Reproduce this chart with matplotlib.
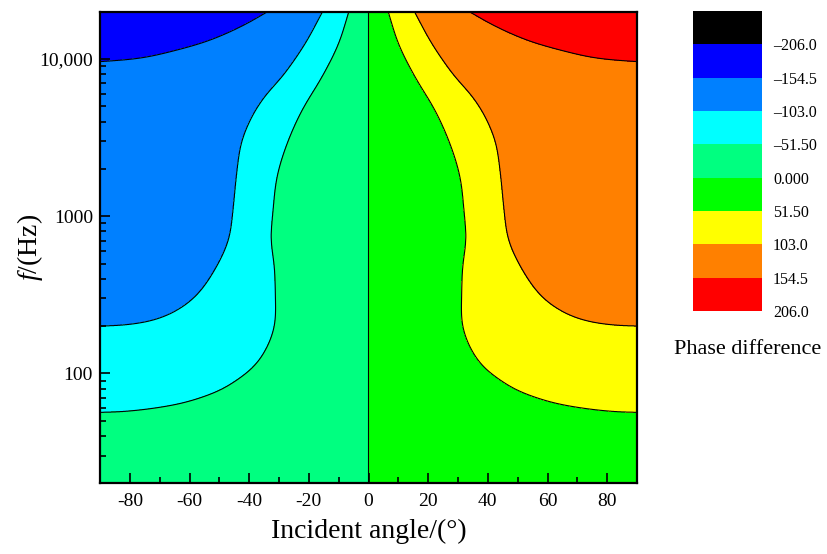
import numpy as np
import matplotlib
matplotlib.use("Agg")
import matplotlib.pyplot as plt
from matplotlib.ticker import MultipleLocator, FixedLocator, FixedFormatter, LogLocator, NullFormatter

plt.rcParams['font.family'] = ['Liberation Serif', 'DejaVu Serif']
plt.rcParams['mathtext.fontset'] = 'custom'
plt.rcParams['mathtext.it'] = 'Liberation Serif:italic'
plt.rcParams['mathtext.rm'] = 'Liberation Serif'
plt.rcParams['axes.unicode_minus'] = False

# ---------------- data ----------------
# contour levels of the phase difference and their fill colours
levels = [-257.5, -206.0, -154.5, -103.0, -51.5, 0.0, 51.5, 103.0, 154.5, 206.0]
fill_colors = ['#000000', '#0000FF', '#0080FF', '#00FFFF', '#00FF80',
               '#00FF00', '#FFFF00', '#FF8000', '#FF0000']
cbar_ticks = [-206.0, -154.5, -103.0, -51.5, 0.0, 51.5, 103.0, 154.5, 206.0]
cbar_labels = ['\u2013206.0', '\u2013154.5', '\u2013103.0', '\u201351.50', '0.000',
               '51.50', '103.0', '154.5', '206.0']

# contour lines (positive-angle half; field is antisymmetric)
freq_51 = [20000, 12530, 7690, 4720, 2900, 1780, 1092, 703, 488, 300, 218, 188,
           163, 134, 110, 90.7, 78.3, 65.9, 60.0, 57.0, 56.5]
ang_51 = [6.6, 10.0, 15.6, 22.3, 27.3, 30.7, 32.0, 32.7, 31.6, 31.2, 31.2, 31.8,
          32.9, 35.1, 38.5, 44.1, 49.7, 60.8, 72.0, 83.2, 90.0]

freq_103 = [20000, 12530, 7690, 6030, 4720, 3700, 2900, 1780, 1092, 703, 443,
            315, 259, 229, 213, 205, 201, 200]
ang_103 = [15.4, 21.2, 29.0, 34.0, 37.9, 40.7, 42.7, 44.3, 45.4, 46.9, 51.9,
           57.5, 63.1, 68.7, 74.3, 79.9, 85.4, 90.0]

freq_154 = [20000, 16400, 13200, 11400, 10200, 9780, 9620]
ang_154 = [33.8, 41.8, 53.0, 64.2, 75.4, 84.3, 90.0]

# phase difference along the +90 deg edge
edge_freq = [20, 56.5, 200, 9620, 20000]
edge_phase = [35.0, 51.5, 103.0, 154.5, 175.0]

x_ticks = [-80, -60, -40, -20, 0, 20, 40, 60, 80]
y_ticks = [100, 1000, 10000]
y_labels = ['100', '1000', '10,000']


# ---------------- smooth the read contour lines ----------------
def smooth_curve(angles, freqs, n=30, win=25):
    sx, sy = 2.983, 157.3  # roughly equal visual scaling of the two axes
    P = np.column_stack([np.asarray(angles, float) * sx, np.log10(np.asarray(freqs, float)) * sy])
    P = np.vstack([2 * P[0] - P[1], P, 2 * P[-1] - P[-2]])
    out = []
    for i in range(1, len(P) - 2):
        p0, p1, p2, p3 = P[i - 1], P[i], P[i + 1], P[i + 2]
        t0 = 0.0
        t1 = t0 + np.linalg.norm(p1 - p0) ** 0.5
        t2 = t1 + np.linalg.norm(p2 - p1) ** 0.5
        t3 = t2 + np.linalg.norm(p3 - p2) ** 0.5
        t = np.linspace(t1, t2, n, endpoint=False)[:, None]
        A1 = (t1 - t) / (t1 - t0) * p0 + (t - t0) / (t1 - t0) * p1
        A2 = (t2 - t) / (t2 - t1) * p1 + (t - t1) / (t2 - t1) * p2
        A3 = (t3 - t) / (t3 - t2) * p2 + (t - t2) / (t3 - t2) * p3
        B1 = (t2 - t) / (t2 - t0) * A1 + (t - t0) / (t2 - t0) * A2
        B2 = (t3 - t) / (t3 - t1) * A2 + (t - t1) / (t3 - t1) * A3
        C = (t2 - t) / (t2 - t1) * B1 + (t - t1) / (t2 - t1) * B2
        out.append(C)
    out.append(P[-2][None, :])
    C = np.vstack(out)
    # resample by arc length (1 px) and apply a light moving average
    d = np.r_[0, np.cumsum(np.hypot(*np.diff(C, axis=0).T))]
    s = np.linspace(0, d[-1], int(d[-1]) + 2)
    Q = np.column_stack([np.interp(s, d, C[:, 0]), np.interp(s, d, C[:, 1])])
    h = win // 2
    if len(Q) > 2 * h + 2:
        left = 2 * Q[0] - Q[1:h + 1][::-1]
        right = 2 * Q[-1] - Q[-h - 1:-1][::-1]
        R = np.vstack([left, Q, right])
        k = np.ones(win) / win
        Q = np.column_stack([np.convolve(R[:, 0], k, 'valid'), np.convolve(R[:, 1], k, 'valid')])
    a = np.clip(Q[:, 0] / sx, 0, 90)
    uu = np.minimum.accumulate(Q[:, 1] / sy)
    return uu[::-1], a[::-1]


# ---------------- build the field for contourf ----------------
curves = []
for L, fc, ac in [(51.5, freq_51, ang_51), (103.0, freq_103, ang_103), (154.5, freq_154, ang_154)]:
    uu, aa = smooth_curve(ac, fc)
    curves.append((L, uu, aa))

u = np.linspace(np.log10(20), np.log10(20000), 2400)
ang = np.linspace(-90, 90, 1400)
Z = np.empty((u.size, ang.size))
for i, ui in enumerate(u):
    xa = [0.0]
    za = [0.0]
    for L, uu, aa in curves:
        if ui > uu[0]:
            a = np.interp(ui, uu, aa)
            if xa[-1] < a < 89.999:
                xa.append(a)
                za.append(L)
    xa.append(90.0)
    za.append(np.interp(ui, np.log10(edge_freq), edge_phase))
    Z[i] = np.sign(ang) * np.interp(np.abs(ang), xa, za)
F = 10 ** u

# ---------------- figure ----------------
fig = plt.figure(figsize=(8.27, 5.54), dpi=100)
ax = fig.add_axes([100 / 827, (554 - 483.3) / 554, 537 / 827, 471.6 / 554])
cf = ax.contourf(ang, F, Z, levels=levels, colors=fill_colors)
ax.contour(ang, F, Z, levels=levels[2:-1], colors='k', linewidths=0.8,
           linestyles='solid', negative_linestyles='solid')

ax.set_yscale('log')
ax.set_xlim(-90, 90)
ax.set_ylim(20, 20000)
ax.xaxis.set_major_locator(FixedLocator(x_ticks))
ax.xaxis.set_minor_locator(MultipleLocator(10))
ax.yaxis.set_major_locator(FixedLocator(y_ticks))
ax.yaxis.set_major_formatter(FixedFormatter(y_labels))
ax.yaxis.set_minor_locator(LogLocator(base=10, subs=np.arange(2, 10)))
ax.yaxis.set_minor_formatter(NullFormatter())

ax.tick_params(which='both', direction='in', top=False, right=False, width=1.2)
ax.tick_params(which='major', length=7, labelsize=14)
ax.tick_params(which='minor', length=4)
ax.tick_params(axis='x', pad=7)
ax.tick_params(axis='y', pad=5)
for s in ax.spines.values():
    s.set_linewidth(1.6)

ax.set_xlabel('Incident angle/(\u00b0)', fontsize=20, labelpad=6)
ax.set_ylabel('$f$/(Hz)', fontsize=20)
ax.yaxis.set_label_coords(-0.102, 0.5)

cax = fig.add_axes([693 / 827, (554 - 311) / 554, 69 / 827, 300 / 554])
cb = fig.colorbar(cf, cax=cax, ticks=cbar_ticks)
cb.ax.set_yticklabels(cbar_labels)
cax.invert_yaxis()
cb.outline.set_visible(False)
cax.tick_params(length=0, pad=8, labelsize=11.5)

fig.text(748 / 827, 1 - 350 / 554, 'Phase difference', ha='center', va='center', fontsize=16)

fig.savefig('out.png', dpi=100)
